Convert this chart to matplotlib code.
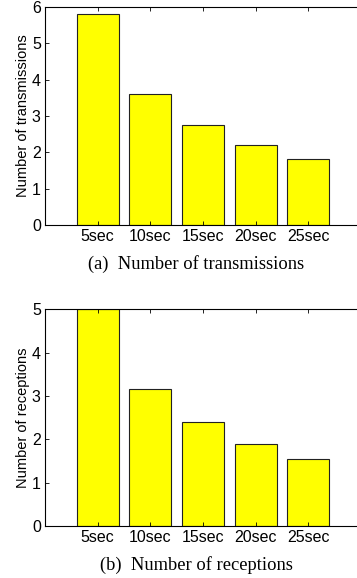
import matplotlib.pyplot as plt
import numpy as np

# 数据
categories = ['5sec', '10sec', '15sec', '20sec', '25sec']
transmissions = [5.8, 3.6, 2.75, 2.19, 1.8]
receptions = [5.0, 3.17, 2.39, 1.89, 1.54]

fig = plt.figure(figsize=(3.57, 5.78), dpi=100)

x = np.arange(1, len(categories) + 1)

def draw(ax, vals, ylim, ylabel):
    ax.bar(x, vals, width=0.8, color='#ffff00', edgecolor='#222222', linewidth=0.8)
    ax.set_xlim(0, 6)
    ax.set_ylim(0, ylim)
    ax.set_xticks(x)
    ax.set_xticklabels(categories, family='Liberation Sans', fontsize=11.5)
    ax.set_yticks(range(0, ylim + 1))
    ax.set_yticklabels([str(v) for v in range(0, ylim + 1)], family='Liberation Sans', fontsize=11.5)
    ax.set_ylabel(ylabel, family='Liberation Sans', fontsize=10.5, labelpad=1)
    ax.tick_params(direction='in', top=True, right=True, length=3, width=0.6, pad=3)
    for s in ax.spines.values():
        s.set_linewidth(0.8)

# 上图
ax1 = fig.add_axes([0.126, 0.611, 0.885, 0.377])
draw(ax1, transmissions, 6, 'Number of transmissions')
fig.text(0.55, 0.543, '(a)  Number of transmissions', ha='center', va='center',
         family='Liberation Serif', fontsize=13.3)

# 下图
ax2 = fig.add_axes([0.126, 0.090, 0.885, 0.375])
draw(ax2, receptions, 5, 'Number of receptions')
fig.text(0.55, 0.022, '(b)  Number of receptions', ha='center', va='center',
         family='Liberation Serif', fontsize=13.3)

fig.savefig('out.png', dpi=100)
